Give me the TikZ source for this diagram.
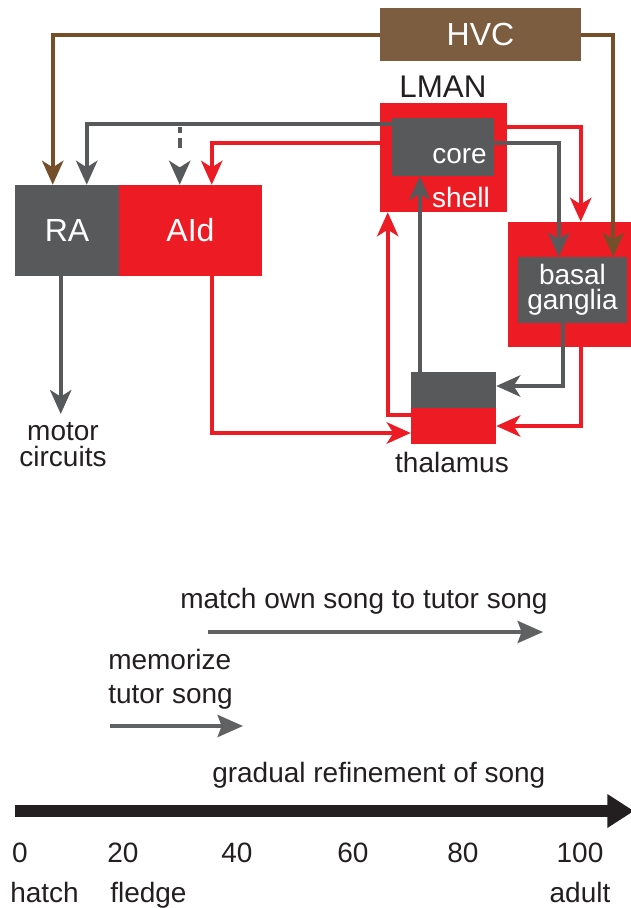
\documentclass[tikz,border=0pt]{standalone}
\usepackage{fontspec}
\setmainfont{Liberation Sans}
\usetikzlibrary{arrows.meta,calc}
\definecolor{songred}{RGB}{237,28,36}
\definecolor{songgray}{RGB}{88,89,91}
\definecolor{songbrown}{RGB}{124,93,63}
\definecolor{hvcline}{RGB}{117,79,42}
\definecolor{ink}{RGB}{35,31,32}
\begin{document}
\begin{tikzpicture}[x=0.75pt, y=-0.75pt, every node/.style={font=\fontsize{21}{25}\selectfont, text=ink, inner sep=0pt}, box/.style={rectangle, inner sep=0pt, text=white, font=\fontsize{24}{28}\selectfont}, wh/.style 2 args={minimum width=#1, minimum height=#2}, conn/.style={line width=3pt, -{Stealth[length=18pt,width=16pt,inset=5pt]}}, redconn/.style={conn, draw=songred}, grayconn/.style={conn, draw=songgray}, brownconn/.style={conn, draw=hvcline}, phase/.style={line width=3pt, draw=songgray!95!white, -{Stealth[length=19pt,width=16.5pt,inset=3pt]}}, age/.style={line width=9pt, draw=ink, -{Triangle[length=20pt,width=24pt]}}]
\useasboundingbox (0,0) rectangle (631,908);
% circuit
\node[box, fill=songbrown, wh={150.75pt}{39.75pt}] (HVC) at (480.5,34.5) {HVC};
\node[box, fill=songgray, wh={78pt}{68.25pt}] (RA) at (67,230.5) {RA};
\node[box, fill=songred, wh={107.25pt}{68.25pt}] (AId) at (190.5,230.5) {AId};
\node[box, fill=songred, wh={95.25pt}{81.75pt}] (shell) at (443.5,157.5) {};
\node[box, fill=songgray, wh={76.5pt}{43.5pt}] (core) at (443,147) {};
\node[box, fill=songred, wh={92.25pt}{93.75pt}] (BG) at (569.5,284.5) {};
\node[box, fill=songgray, wh={81.75pt}{49.5pt}, align=center, font=\fontsize{21}{19}\selectfont] (BGin) at (572.5,290) {basal\\ganglia};
\node[box, fill=songgray, wh={63.75pt}{27pt}] (thalG) at (453.5,390) {};
\node[box, fill=songred, wh={63.75pt}{27pt}] (thalR) at (453.5,426) {};
\node[anchor=base, font=\fontsize{23.5}{27}\selectfont] (lmanlbl) at (443,97) {LMAN};
\node[anchor=base east, text=white] (corelbl) at (487,163) {core};
\node[anchor=base, text=white] (shelllbl) at (461,207) {shell};
\node[anchor=base] (thallbl) at (452,472) {thalamus};
\node[anchor=north, align=center, outer sep=6pt, font=\fontsize{21}{19.5}\selectfont] (motor) at (63,414) {motor\\circuits};
\draw[brownconn] (HVC.west) -| ($(RA.north west)+(38,0)$);
\draw[brownconn] (HVC.east) -| ($(BGin.north east)+(-14,0)$);
\draw[grayconn] ($(core.north west)+(0,6)$) -| ($(RA.north west)+(72,0)$);
\draw[grayconn, dash pattern=on 4.5pt off 3.75pt on 7.5pt off 30pt] ($(AId.north west)+(61,-58)$) -- ($(AId.north west)+(61,0)$);
\draw[redconn] ($(shell.north west)+(0,40)$) -| ($(AId.north west)+(93,0)$);
\draw[redconn] ($(shell.north east)+(0,24)$) -| ($(BG.north west)+(73,0)$);
\draw[grayconn] ($(core.north east)+(0,25)$) -| ($(BGin.north west)+(41,0)$);
\draw[grayconn] ($(thalG.north west)+(9,0)$) coordinate (th) -- (th |- core.south);
\draw[redconn] ($(thalR.north west)+(0,7)$) -| ($(shell.south west)+(8,0)$);
\draw[redconn] ($(AId.south west)+(93,0)$) |- ($(thalR.west)+(0,7)$);
\draw[grayconn] ($(BGin.south west)+(45,0)$) |- ($(thalG.east)+(0,-4)$);
\draw[redconn] ($(BG.south west)+(73,0)$) |- (thalR.east);
\draw[grayconn] ($(RA.south west)+(46,0)$) coordinate (ra) -- (ra |- motor.north);
% timeline
\node[anchor=base west] (matchlbl) at (180,608) {match own song to tutor song};
\coordinate (m0) at (208,632); \coordinate (m1) at (543,632);
\draw[phase] (m0) -- (m1);
\node[anchor=base west, align=left, font=\fontsize{21}{25.5}\selectfont] (memlbl) at (108,703) {memorize\\tutor song};
\coordinate (s0) at (110,726); \coordinate (s1) at (243,726);
\draw[phase] (s0) -- (s1);
\node[anchor=base west] (gradlbl) at (212,782) {gradual refinement of song};
\coordinate (a0) at (15,811); \coordinate (a1) at (634,811);
\draw[age] (a0) -- (a1);
\foreach \d/\x in {0/20,20/123,40/237,60/353,80/463,100/580} \node[anchor=base] (d\d) at (\x,862) {\d};
\node[anchor=base west] (hatch) at (10,902) {hatch};
\node[anchor=base west] (fledge) at (110,902) {fledge};
\node[anchor=base] (adult) at (580,902) {adult};
\end{tikzpicture}
\end{document}
